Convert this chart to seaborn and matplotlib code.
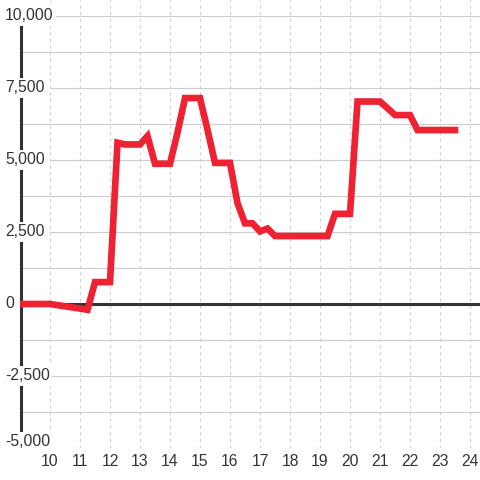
import matplotlib
matplotlib.use("Agg")
import matplotlib.pyplot as plt
import matplotlib.transforms as mtransforms
import seaborn as sns

# hour of day vs value
hours = [9, 10, 11.25, 11.5, 12, 12.25, 12.5, 13, 13.25, 13.5, 14, 14.25,
         14.5, 15, 15.25, 15.5, 16, 16.25, 16.5, 16.75, 17, 17.25, 17.5,
         19.25, 19.5, 20, 20.25, 21, 21.25, 21.5, 22, 22.25, 23.5]
values = [0, 0, -200, 760, 760, 5600, 5540, 5540, 5830, 4870, 4870, 5950,
          7150, 7150, 6050, 4900, 4900, 3500, 2800, 2800, 2520, 2620, 2360,
          2360, 3130, 3130, 7030, 7030, 6800, 6560, 6560, 6040, 6040]

x_ticks = list(range(10, 25))
y_major = [10000, 7500, 5000, 2500, 0, -2500, -5000]
y_minor = [8750, 6250, 3750, 1250, -1250, -3750]
y_labels = ["10,000", "7,500", "5,000", "2,500", "0", "-2,500", "-5,000"]

sns.set_style("white")
plt.rcParams["font.family"] = ["Liberation Sans", "DejaVu Sans"]

fig = plt.figure(figsize=(4.8, 4.8), dpi=100)
ax = fig.add_axes([20 / 480, 32 / 480, 460 / 480, 448 / 480])
xmin, xmax = 9, 9 + 460 / 30
ymin, ymax = -5000, 10000 + 16 / 72 * 2500
ax.set_xlim(xmin, xmax)
ax.set_ylim(ymin, ymax)
for s in ax.spines.values():
    s.set_visible(False)

grid = "#cccccc"
# vertical dashed grid
for x in x_ticks:
    ax.axvline(x, color=grid, lw=0.8, ls=(0, (2.5, 3.5)), zorder=1)
# horizontal grid: labelled lines start at x=10, the others at the axis
for y in y_major:
    if y != 0:
        ax.hlines(y, 10, xmax, color=grid, lw=0.8, zorder=1)
for y in y_minor:
    ax.hlines(y, xmin, xmax, color=grid, lw=0.8, zorder=1)

# zero line and left axis
ax.hlines(0, xmin, xmax, color="#333333", lw=2.2, zorder=2)
ax.vlines(xmin + 0.03, ymin, 10000, color="#333333", lw=2.2, zorder=2, clip_on=False)

sns.lineplot(x=hours, y=values, ax=ax, color="#ee2233", lw=4.8, sort=False,
             zorder=4)
ax.lines[-1].set_solid_joinstyle("miter")
ax.lines[-1].set_solid_capstyle("projecting")

# y labels with white background, left aligned; the bottom one is lifted
# so it clears the x labels
trans = mtransforms.blended_transform_factory(fig.transFigure, ax.transData)
for y, lab in zip(y_major, y_labels):
    shift = 6 / 72 * 2500 if y == -5000 else 0
    ax.text(5 / 480, y + shift, lab, transform=trans, ha="left", va="center",
            fontsize=11.3, color="#333333", zorder=3, clip_on=False,
            bbox=dict(facecolor="white", edgecolor="none", pad=1.5))

ax.set_yticks([])
ax.set_xticks(x_ticks)
ax.set_xticklabels([str(x) for x in x_ticks])
ax.tick_params(axis="x", length=0, pad=4.5, labelsize=11.3, labelcolor="#333333")
ax.set_xlabel("")
ax.set_ylabel("")

fig.savefig("out.png", dpi=100)
plt.close(fig)
